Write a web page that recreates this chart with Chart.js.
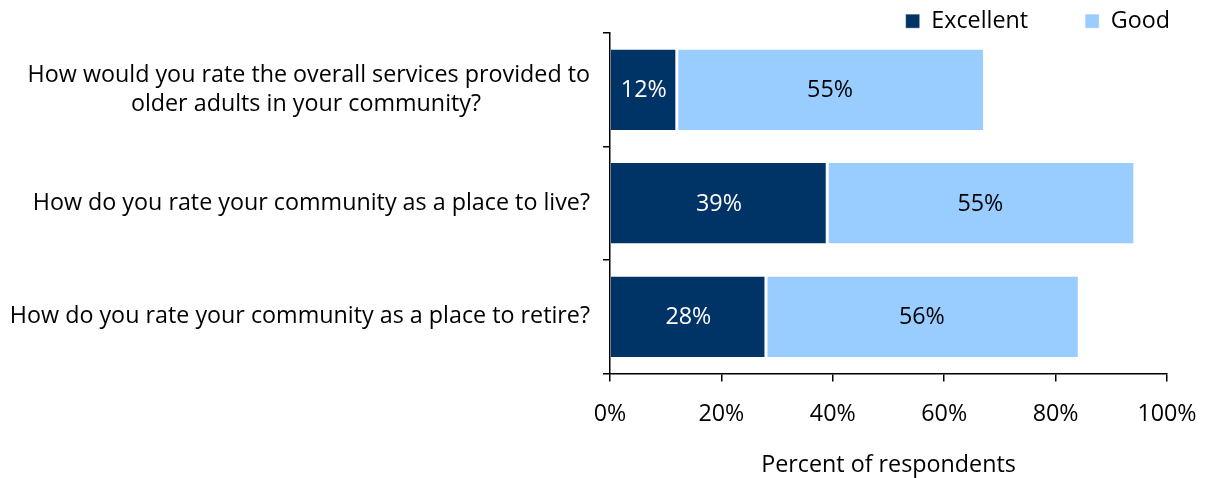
<!DOCTYPE html>
<html>
<head>
<meta charset="utf-8">
<script src="https://cdn.jsdelivr.net/npm/chart.js@4.4.1/dist/chart.umd.min.js"></script>
<style>
html,body{margin:0;padding:0;background:#fff;}
#wrap{width:1206px;height:478px;}
</style>
</head>
<body>
<div id="wrap"><canvas id="c" width="1206" height="478"></canvas></div>
<script>
const categories = [
  ["How would you rate the overall services provided to", "older adults in your community?"],
  "How do you rate your community as a place to live?",
  "How do you rate your community as a place to retire?"
];
const excellent = [12, 39, 28];
const good = [55, 55, 56];
const xTicks = [0, 20, 40, 60, 80, 100];
const seriesNames = ["Excellent", "Good"];
const axisTitle = "Percent of respondents";

const FONT = "'Open Sans', 'Noto Sans', sans-serif";
const FS = 23.3;
const LEG_PAD = 57;

// center shorter lines of multi-line labels within the (right-aligned) label block
const mctx = document.createElement('canvas').getContext('2d');
mctx.font = FS + "px " + FONT;
function centerLines(lbl) {
  if (!Array.isArray(lbl)) return lbl;
  const widths = lbl.map(s => mctx.measureText(s).width);
  const widest = Math.max(...widths);
  const sp = mctx.measureText(' ').width;
  return lbl.map((s, i) => s + ' '.repeat(Math.round((widest - widths[i]) / 2 / sp)));
}

const valueLabels = {
  id: 'valueLabels',
  afterDatasetsDraw(chart) {
    const ctx = chart.ctx;
    ctx.save();
    ctx.font = FS + "px " + FONT;
    ctx.textAlign = 'center';
    ctx.textBaseline = 'middle';
    chart.data.datasets.forEach((ds, di) => {
      const meta = chart.getDatasetMeta(di);
      meta.data.forEach((el, i) => {
        const p = el.getCenterPoint();
        ctx.fillStyle = di === 0 ? '#ffffff' : '#000000';
        ctx.fillText(ds.data[i] + '%', p.x, p.y + 1);
      });
    });
    ctx.restore();
  }
};

const legendFix = {
  id: 'legendFix',
  beforeLayout(chart) {
    const lg = chart.legend;
    if (lg && !lg._patched) {
      const orig = lg.fit;
      lg.fit = function () {
        orig.call(this);
        this.height = 80.5;
        this.lineWidths = this.lineWidths.map(w => w + 1);
      };
      lg._patched = true;
    }
  }
};

new Chart(document.getElementById('c'), {
  type: 'bar',
  data: {
    labels: categories,
    datasets: [
      { label: seriesNames[0], data: excellent, backgroundColor: '#003366',
        borderColor: '#ffffff', borderWidth: {left: 0, top: 0, bottom: 0, right: 1.5}, borderSkipped: false,
        categoryPercentage: 1, barPercentage: 0.71 },
      { label: seriesNames[1], data: good, backgroundColor: '#99CCFF',
        borderColor: '#ffffff', borderWidth: {left: 1.5, top: 0, bottom: 0, right: 0}, borderSkipped: false,
        categoryPercentage: 1, barPercentage: 0.71 }
    ]
  },
  options: {
    indexAxis: 'y',
    responsive: false,
    animation: false,
    devicePixelRatio: 1,
    layout: { padding: { left: 0, right: -22, top: -47.5, bottom: 0 } },
    plugins: {
      legend: {
        position: 'top',
        align: 'end',
        labels: {
          color: '#000',
          font: { family: FONT, size: FS },
          boxWidth: 14,
          boxHeight: 14,
          padding: LEG_PAD
        }
      },
      tooltip: { enabled: false }
    },
    scales: {
      x: {
        stacked: true,
        min: 0,
        max: 100,
        afterFit(scale) { scale.paddingRight = 39; scale.paddingLeft = 0; },
        afterBuildTicks(scale) { scale.ticks = xTicks.map(v => ({ value: v })); },
        ticks: {
          color: '#000',
          font: { family: FONT, size: FS, lineHeight: 1.2 },
          padding: 19,
          maxRotation: 0,
          callback: v => v + '%'
        },
        grid: { drawOnChartArea: false, drawTicks: true, tickLength: 8, color: '#000', lineWidth: 1.5 },
        border: { display: true, color: '#000', width: 1.5 },
        title: { display: true, text: axisTitle, color: '#000', font: { family: FONT, size: FS, lineHeight: 1.1 }, padding: { top: 5, bottom: 0 } }
      },
      y: {
        stacked: true,
        afterFit(scale) { scale.width = 610; },
        ticks: {
          color: '#000',
          font: { family: FONT, size: FS, lineHeight: 1.24 },
          padding: 13,
          autoSkip: false,
          callback: function (v, i) { return centerLines(categories[i]); }
        },
        grid: { offset: true, drawOnChartArea: false, drawTicks: true, tickLength: 7, color: '#000', lineWidth: 1.5 },
        border: { display: true, color: '#000', width: 1.5 }
      }
    }
  },
  plugins: [valueLabels, legendFix]
});
</script>
</body>
</html>
